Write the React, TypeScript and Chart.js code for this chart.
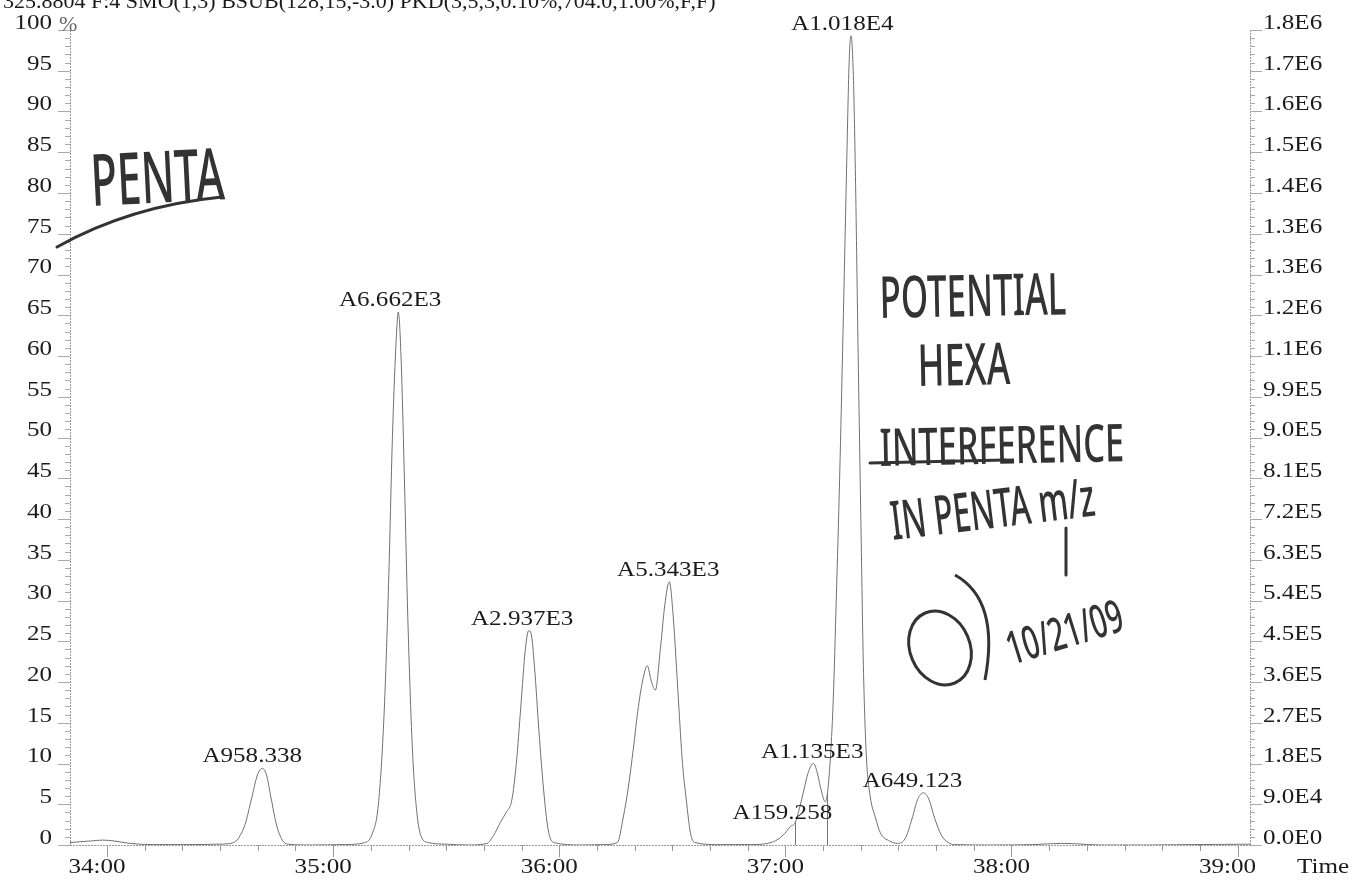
import React, { useEffect, useRef } from 'react';
import { Chart, registerables } from 'chart.js';
Chart.register(...registerables);

// Trace: retention time (minutes) and relative intensity (%)
const traceTimes = [
  33.836, 33.88, 33.93, 33.98, 34.03, 34.1, 34.2, 34.35, 34.5, 34.56,
  34.58, 34.61, 34.64, 34.665, 34.686, 34.705, 34.725, 34.75, 34.775, 34.8,
  34.9, 35.05, 35.14,
  35.17, 35.2, 35.225, 35.245, 35.262, 35.277, 35.288, 35.3, 35.315, 35.33, 35.35, 35.37, 35.39, 35.42,
  35.5, 35.6, 35.68,
  35.71, 35.74, 35.765, 35.79, 35.81, 35.83, 35.85, 35.865, 35.875, 35.89, 35.91, 35.93, 35.95, 35.975,
  36.1, 36.2, 36.257,
  36.283, 36.305, 36.327, 36.35, 36.372, 36.389, 36.408, 36.425, 36.447, 36.467, 36.487, 36.504, 36.527, 36.545, 36.562, 36.58, 36.6,
  36.7, 36.85, 36.947,
  36.99, 37.02, 37.044, 37.065, 37.08, 37.1, 37.124, 37.14, 37.155, 37.177,
  37.195, 37.212, 37.225, 37.24, 37.255, 37.27, 37.282, 37.29, 37.3, 37.31, 37.322, 37.335, 37.345, 37.358, 37.375, 37.398, 37.42, 37.46, 37.496,
  37.53, 37.56, 37.585, 37.611, 37.635, 37.66, 37.69, 37.72, 37.75,
  37.9, 38.1, 38.22, 38.28, 38.4, 38.6, 38.8, 39.055,
];
const traceIntensity = [
  0.3, 0.4, 0.5, 0.6, 0.5, 0.2, 0.05, 0.05, 0.1, 0.3,
  0.8, 2.5, 5.8, 8.6, 9.4, 8.6, 5.8, 2.4, 0.6, 0.1,
  0, 0.05, 0.3,
  1.2, 5, 16, 32, 50, 61, 65.4, 60, 45, 28, 12, 4, 1, 0.3,
  0.1, 0, 0.2,
  1.2, 2.8, 4.0, 5.5, 10, 17, 24, 26.3, 26, 22, 14, 7, 2, 0.3,
  0, 0.05, 0.3,
  3.4, 7, 11.7, 17, 20.6, 22, 20, 19, 24, 29.5, 32.3, 28, 17.8, 10, 5.5, 1.5, 0.3,
  0.05, 0.05, 0.4,
  1.2, 2.2, 2.8, 4.8, 6.5, 8.8, 10, 9, 7.1, 5.3,
  9, 18, 30, 45, 63, 82, 96, 99.3, 95, 82, 60, 38, 22, 11, 6, 3.4, 1.5, 0.5, 0.2,
  0.8, 3.2, 5.6, 6.4, 5.6, 3.3, 1.2, 0.3, 0.05,
  0, 0.05, 0.2, 0.15, 0, 0, 0.05, 0.1,
];

// Peak annotations (label anchor time and the peak apex height)
const peakLabels = ['A958.338', 'A6.662E3', 'A2.937E3', 'A5.343E3', 'A159.258', 'A1.135E3', 'A1.018E4', 'A649.123'];
const labelTimes = [34.642, 35.252, 35.836, 36.482, 36.987, 37.119, 37.252, 37.562];
const peakHeights = [9.4, 65.4, 26.3, 32.3, 2.5, 10, 99.3, 6.4];

// Integration drop lines
const dropTimes = [37.044, 37.186];
const dropHeights = [2.8, 6.5];

// Axes
const xMin = 33.836;
const xMax = 39.055;
const rightTickLabels = ['0.0E0', '9.0E4', '1.8E5', '2.7E5', '3.6E5', '4.5E5', '5.4E5', '6.3E5', '7.2E5', '8.1E5', '9.0E5', '9.9E5', '1.1E6', '1.2E6', '1.3E6', '1.3E6', '1.4E6', '1.5E6', '1.6E6', '1.7E6', '1.8E6'];
const headerText = '325.8804 F:4 SMO(1,3) BSUB(128,15,-3.0) PKD(3,5,3,0.10%,704.0,1.00%,F,F)';

const SERIF = '"Liberation Serif", "Times New Roman", serif';
const HAND = '"Noto Sans", "DejaVu Sans", sans-serif';
const STRETCH = 1.14;

function sText(ctx: CanvasRenderingContext2D, text: string, x: number, y: number, align: CanvasTextAlign, baseline: CanvasTextBaseline) {
  ctx.save();
  ctx.translate(x, y);
  ctx.scale(STRETCH, 1);
  ctx.font = `22px ${SERIF}`;
  ctx.fillStyle = '#1a1a1a';
  ctx.textAlign = align;
  ctx.textBaseline = baseline;
  ctx.fillText(text, 0, 0);
  ctx.restore();
}

function handText(ctx: CanvasRenderingContext2D, text: string, x: number, y: number, size: number, sx: number, rot: number) {
  ctx.save();
  ctx.translate(x, y);
  ctx.rotate(rot);
  ctx.scale(sx, 1);
  ctx.font = `500 ${size}px ${HAND}`;
  ctx.fillStyle = '#333';
  ctx.textAlign = 'left';
  ctx.textBaseline = 'alphabetic';
  ctx.fillText(text, 0, 0);
  ctx.restore();
}

function stroke(ctx: CanvasRenderingContext2D, pts: number[]) {
  ctx.save();
  ctx.strokeStyle = '#333';
  ctx.lineWidth = 3;
  ctx.lineCap = 'round';
  ctx.beginPath();
  ctx.moveTo(pts[0], pts[1]);
  if (pts.length === 6) ctx.quadraticCurveTo(pts[2], pts[3], pts[4], pts[5]);
  else ctx.lineTo(pts[2], pts[3]);
  ctx.stroke();
  ctx.restore();
}

const decorPlugin = {
  id: 'decor',
  afterDraw(chart: any) {
    const ctx: CanvasRenderingContext2D = chart.ctx;
    const xs = chart.scales.x;
    const ys = chart.scales.y;
    const ys2 = chart.scales.y2;
    const area = chart.chartArea;
    ctx.save();
    // axis lines (dotted)
    ctx.strokeStyle = '#999';
    ctx.lineWidth = 1;
    ctx.setLineDash([2, 1]);
    ctx.beginPath();
    ctx.moveTo(area.left + 0.5, area.top);
    ctx.lineTo(area.left + 0.5, area.bottom);
    ctx.moveTo(area.right + 0.5, area.top);
    ctx.lineTo(area.right + 0.5, area.bottom);
    ctx.moveTo(area.left, area.bottom + 0.5);
    ctx.lineTo(area.right, area.bottom + 0.5);
    ctx.stroke();
    ctx.setLineDash([]);
    // y minor/major ticks
    ctx.strokeStyle = '#aaa';
    ctx.beginPath();
    for (let v = 0; v <= 100; v += 1) {
      const py = Math.round(ys.getPixelForValue(v)) + 0.5;
      const len = v % 5 === 0 ? 12 : 5;
      ctx.moveTo(area.left - len, py);
      ctx.lineTo(area.left, py);
      ctx.moveTo(area.right, py);
      ctx.lineTo(area.right + len, py);
    }
    ctx.stroke();
    // x ticks
    ctx.strokeStyle = '#999';
    ctx.beginPath();
    xs.ticks.forEach((t: any) => {
      const px = Math.round(xs.getPixelForValue(t.value)) + 0.5;
      const major = Math.abs(t.value - Math.round(t.value)) < 1e-6;
      ctx.moveTo(px, area.bottom);
      ctx.lineTo(px, area.bottom + (major ? 12 : 6));
    });
    ctx.stroke();
    // drop lines
    ctx.strokeStyle = '#777';
    ctx.beginPath();
    dropTimes.forEach((t, i) => {
      const px = Math.round(xs.getPixelForValue(t)) + 0.5;
      ctx.moveTo(px, area.bottom);
      ctx.lineTo(px, ys.getPixelForValue(dropHeights[i]));
    });
    ctx.stroke();
    ctx.restore();

    // tick labels
    ys.ticks.forEach((t: any) => {
      const py = ys.getPixelForValue(t.value) - 7;
      sText(ctx, String(t.value), area.left - 18, py, 'right', 'middle');
    });
    ys2.ticks.forEach((t: any) => {
      const py = ys2.getPixelForValue(t.value) - 7;
      const lab = rightTickLabels[Math.round(t.value / 5)] ?? '';
      sText(ctx, lab, area.right + 13, py, 'left', 'middle');
    });
    xs.ticks.forEach((t: any) => {
      const major = Math.abs(t.value - Math.round(t.value)) < 1e-6;
      if (!major) return;
      sText(ctx, `${Math.round(t.value)}:00`, xs.getPixelForValue(t.value) - 10, area.bottom + 22, 'center', 'middle');
    });
    sText(ctx, 'Time', 1297, area.bottom + 22, 'left', 'middle');
    ctx.save();
    ctx.font = `22px ${SERIF}`;
    ctx.fillStyle = '#666';
    ctx.textAlign = 'left';
    ctx.fillText('%', area.left - 11, ys.getPixelForValue(100) + 1);
    ctx.fillStyle = '#1a1a1a';
    ctx.fillText(headerText, 3, 8);
    ctx.restore();

    // peak labels
    peakLabels.forEach((lab, i) => {
      const px = xs.getPixelForValue(labelTimes[i]);
      const py = ys.getPixelForValue(peakHeights[i]);
      sText(ctx, lab, px, py - 6, 'center', 'alphabetic');
    });

    // handwritten notes
    handText(ctx, 'PENTA', 92, 206, 72, 0.6, -0.05);
    stroke(ctx, [57, 247, 130, 206, 222, 197]);
    handText(ctx, 'POTENTIAL', 880, 318, 58, 0.6, -0.02);
    handText(ctx, 'HEXA', 918, 386, 58, 0.62, -0.02);
    handText(ctx, 'INTERFERENCE', 880, 466, 52, 0.66, -0.02);
    stroke(ctx, [870, 463, 1005, 460]);
    handText(ctx, 'IN PENTA m/z', 893, 540, 54, 0.58, -0.12);
    stroke(ctx, [1066, 528, 1066, 575]);
    ctx.save();
    ctx.strokeStyle = '#333';
    ctx.lineWidth = 3;
    ctx.beginPath();
    ctx.ellipse(940, 648, 30, 38, -0.4, 0, Math.PI * 2);
    ctx.stroke();
    ctx.beginPath();
    ctx.moveTo(955, 575);
    ctx.quadraticCurveTo(1000, 600, 985, 680);
    ctx.stroke();
    ctx.restore();
    handText(ctx, '10/21/09', 1012, 665, 46, 0.62, -0.3);
  },
};

export default function App() {
  const ref = useRef<HTMLCanvasElement | null>(null);
  useEffect(() => {
    if (!ref.current) return;
    const xTicks: number[] = [];
    for (let k = 0; k * 10 <= (xMax - 33.8333) * 600 + 1e-6; k++) xTicks.push(33 + 5 / 6 + k / 6);
    const chart = new Chart(ref.current, {
      type: 'line',
      data: {
        datasets: [
          {
            data: traceTimes.map((t, i) => ({ x: t, y: traceIntensity[i] })),
            borderColor: '#707070',
            borderWidth: 1,
            pointRadius: 0,
            cubicInterpolationMode: 'monotone',
            fill: false,
          },
        ],
      },
      options: {
        animation: false,
        responsive: false,
        layout: { padding: { top: 30, left: 0, right: 0, bottom: 0 } },
        plugins: { legend: { display: false }, tooltip: { enabled: false } },
        scales: {
          x: {
            type: 'linear',
            min: xMin,
            max: xMax,
            afterBuildTicks: (s: any) => {
              s.ticks = xTicks.filter((v) => v >= xMin - 1e-6 && v <= xMax).map((v) => ({ value: v }));
            },
            afterFit: (s: any) => {
              s.height = 40;
            },
            grid: { display: false, drawTicks: false },
            border: { display: false },
            ticks: { display: false, autoSkip: false },
          },
          y: {
            position: 'left',
            min: 0,
            max: 100,
            afterFit: (s: any) => {
              s.width = 70;
            },
            grid: { display: false, drawTicks: false },
            border: { display: false },
            ticks: { display: false, stepSize: 5 },
          },
          y2: {
            position: 'right',
            min: 0,
            max: 100,
            afterFit: (s: any) => {
              s.width = 103;
            },
            grid: { display: false, drawTicks: false },
            border: { display: false },
            ticks: { display: false, stepSize: 5 },
          },
        },
      } as any,
      plugins: [decorPlugin],
    });
    return () => chart.destroy();
  }, []);
  return (
    <div style={{ position: 'absolute', left: 0, top: 0, width: 1353, height: 885, background: '#fff' }}>
      <canvas ref={ref} width={1353} height={885} />
    </div>
  );
}
